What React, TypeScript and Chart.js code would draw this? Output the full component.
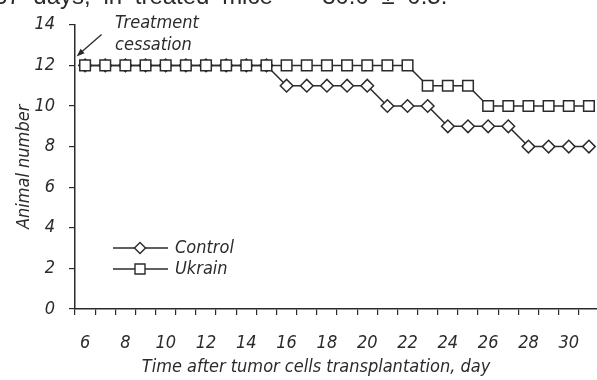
import { useEffect, useRef } from 'react';
import { Chart, registerables } from 'chart.js';

Chart.register(...registerables);

const days = [6, 7, 8, 9, 10, 11, 12, 13, 14, 15, 16, 17, 18, 19, 20, 21, 22, 23, 24, 25, 26, 27, 28, 29, 30, 31];
const controlValues = [12, 12, 12, 12, 12, 12, 12, 12, 12, 12, 11, 11, 11, 11, 11, 10, 10, 10, 9, 9, 9, 9, 8, 8, 8, 8];
const ukrainValues = [12, 12, 12, 12, 12, 12, 12, 12, 12, 12, 12, 12, 12, 12, 12, 12, 12, 11, 11, 11, 10, 10, 10, 10, 10, 10];
const seriesNames = ['Control', 'Ukrain'];
const yMin = 0;
const yMax = 14;
const yStep = 2;
const xTitle = 'Time after tumor cells transplantation, day';
const yTitle = 'Animal number';
const noteLines = ['Treatment', 'cessation'];
const topText = '37 days, in treated mice \u2014 30.0 \u00b1 0.5.';

const FONT = "'Liberation Sans Narrow', 'DejaVu Sans Condensed', 'Liberation Sans', sans-serif";
const INK = '#2b2b2b';

function drawDiamond(ctx: CanvasRenderingContext2D, x: number, y: number, r: number) {
  ctx.beginPath();
  ctx.moveTo(x - r, y);
  ctx.lineTo(x, y - r);
  ctx.lineTo(x + r, y);
  ctx.lineTo(x, y + r);
  ctx.closePath();
  ctx.fill();
  ctx.stroke();
}

function drawSquare(ctx: CanvasRenderingContext2D, x: number, y: number, h: number) {
  ctx.beginPath();
  ctx.rect(x - h, y - h, 2 * h, 2 * h);
  ctx.fill();
  ctx.stroke();
}

const annotationPlugin = {
  id: 'annotationPlugin',
  afterDraw(chart: any) {
    const { ctx, chartArea, scales } = chart;
    const xs = scales.x;
    const ys = scales.y;
    ctx.save();

    // cut-off paragraph text at the top
    ctx.font = "24px 'Liberation Sans', Arial, sans-serif";
    ctx.fillStyle = INK;
    ctx.textAlign = 'left';
    ctx.textBaseline = 'alphabetic';
    (ctx as any).wordSpacing = '6px';
    ctx.fillText(topText, -6, 4);
    (ctx as any).wordSpacing = '0px';

    // Treatment cessation note + arrow
    const px = xs.getPixelForValue(0);
    const py = ys.getPixelForValue(12);
    ctx.font = `italic 18px ${FONT}`;
    ctx.textBaseline = 'middle';
    ctx.fillText(noteLines[0], px + 30, py - 42);
    ctx.fillText(noteLines[1], px + 30, py - 20);

    const sx = px + 16.5, sy = py - 31;
    const tx = px - 8.5, ty = py - 9;
    const ang = Math.atan2(ty - sy, tx - sx);
    ctx.strokeStyle = INK;
    ctx.lineWidth = 1.3;
    ctx.beginPath();
    ctx.moveTo(sx, sy);
    ctx.lineTo(tx - Math.cos(ang) * 5, ty - Math.sin(ang) * 5);
    ctx.stroke();
    ctx.beginPath();
    ctx.moveTo(tx, ty);
    ctx.lineTo(tx - Math.cos(ang) * 8 + Math.sin(ang) * 3, ty - Math.sin(ang) * 8 - Math.cos(ang) * 3);
    ctx.lineTo(tx - Math.cos(ang) * 8 - Math.sin(ang) * 3, ty - Math.sin(ang) * 8 + Math.cos(ang) * 3);
    ctx.closePath();
    ctx.fillStyle = INK;
    ctx.fill();

    // legend
    const lx0 = chartArea.left + 38;
    const lx1 = chartArea.left + 93;
    const mx = chartArea.left + 65;
    const rows = [chartArea.bottom - 61, chartArea.bottom - 40];
    ctx.lineWidth = 1.4;
    rows.forEach((ry, i) => {
      ctx.strokeStyle = INK;
      ctx.beginPath();
      ctx.moveTo(lx0, ry);
      ctx.lineTo(lx1, ry);
      ctx.stroke();
      ctx.fillStyle = '#fff';
      if (i === 0) drawDiamond(ctx, mx, ry, 5.5);
      else drawSquare(ctx, mx, ry, 5);
      ctx.fillStyle = INK;
      ctx.font = `italic 18px ${FONT}`;
      ctx.textBaseline = 'middle';
      ctx.fillText(seriesNames[i], chartArea.left + 100, ry);
    });

    // x axis title
    ctx.font = `italic 18px ${FONT}`;
    ctx.textAlign = 'center';
    ctx.textBaseline = 'middle';
    ctx.fillStyle = INK;
    ctx.fillText(xTitle, chartArea.left + 241, chartArea.bottom + 58);

    ctx.restore();
  },
};

export default function App() {
  const canvasRef = useRef<HTMLCanvasElement | null>(null);

  useEffect(() => {
    const canvas = canvasRef.current;
    if (!canvas) return;
    const chart = new Chart(canvas, {
      type: 'line',
      data: {
        labels: days.map(String),
        datasets: [
          {
            label: seriesNames[1],
            data: ukrainValues,
            order: 0,
            borderColor: INK,
            borderWidth: 1.5,
            pointStyle: 'rect',
            pointRadius: 7.5,
            pointBorderWidth: 1.5,
            pointBackgroundColor: '#fff',
            pointBorderColor: INK,
            tension: 0,
            fill: false,
          },
          {
            label: seriesNames[0],
            data: controlValues,
            order: 1,
            borderColor: INK,
            borderWidth: 1.5,
            pointStyle: 'rectRot',
            pointRadius: 6.3,
            pointBorderWidth: 1.5,
            pointBackgroundColor: '#fff',
            pointBorderColor: INK,
            tension: 0,
            fill: false,
          },
        ],
      },
      options: {
        responsive: false,
        animation: false,
        devicePixelRatio: 1,
        layout: { padding: { top: 17, right: 6, left: 0, bottom: 0 } },
        plugins: { legend: { display: false }, tooltip: { enabled: false } },
        scales: {
          x: {
            type: 'category',
            offset: true,
            grid: {
              offset: true,
              drawOnChartArea: false,
              drawTicks: true,
              tickLength: 6,
              color: INK,
              lineWidth: 1.2,
            },
            border: { display: true, color: INK, width: 1.5 },
            ticks: {
              autoSkip: false,
              maxRotation: 0,
              padding: 18,
              color: INK,
              font: { family: FONT, size: 18, style: 'italic' },
              callback: (_v: any, i: number) => (days[i] % 2 === 0 ? String(days[i]) : ''),
            },
            afterFit: (scale: any) => {
              scale.height = 71;
            },
          },
          y: {
            min: yMin,
            max: yMax,
            grid: {
              drawOnChartArea: false,
              drawTicks: true,
              tickLength: 6,
              color: INK,
              lineWidth: 1.2,
            },
            border: { display: true, color: INK, width: 1.5 },
            ticks: {
              stepSize: yStep,
              padding: 14,
              color: INK,
              font: { family: FONT, size: 18, style: 'italic' },
            },
            title: {
              display: true,
              text: yTitle,
              color: INK,
              padding: { top: 14, bottom: 0 },
              font: { family: FONT, size: 18, style: 'italic' },
            },
            afterFit: (scale: any) => {
              scale.width = 75;
            },
          },
        },
      },
      plugins: [annotationPlugin],
    });
    return () => chart.destroy();
  }, []);

  return (
    <div
      style={{
        position: 'fixed',
        left: 0,
        top: 0,
        width: 597,
        height: 380,
        overflow: 'hidden',
        background: '#fff',
      }}
    >
      <canvas ref={canvasRef} width={608} height={380} style={{ display: 'block' }} />
    </div>
  );
}
